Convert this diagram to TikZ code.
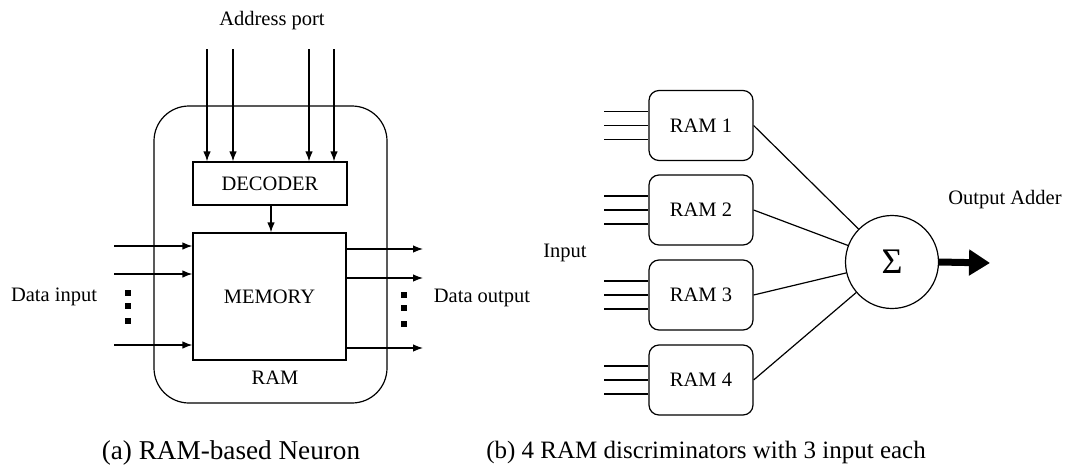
\documentclass[tikz,border=0pt]{standalone}
\usepackage{fontspec}
\setmainfont{Liberation Serif}
\usetikzlibrary{arrows.meta,calc}
\begin{document}
\begin{tikzpicture}[x=1pt,y=-1pt,
  line width=1.2pt,
  lbl/.style={font=\fontsize{20.5}{24}\selectfont, inner sep=0pt},
  captxt/.style={font=\fontsize{25}{30}\selectfont, inner sep=0pt, anchor=base},
  sqbox/.style={draw, inner sep=0pt, font=\fontsize{20.5}{24}\selectfont},
  rambox/.style={draw, rounded corners=10pt, minimum width=104pt, minimum height=70pt, inner sep=0pt, font=\fontsize{20.5}{24}\selectfont},
  arr/.style={-{Latex[length=10pt,width=7.5pt]}},
  dotsq/.style={fill, minimum size=5.5pt, inner sep=0pt}
]
\useasboundingbox (0,0) rectangle (1073,466);

% ---------- (a) RAM-based neuron ----------
\node[draw, rounded corners=35pt, minimum width=233pt, minimum height=297pt, inner sep=0pt] (outer) at (270.5,254.5) {};
\node[sqbox, minimum width=154pt, minimum height=43pt] (dec) at (270,183.5) {DECODER};
\node[sqbox, minimum width=153pt, minimum height=127pt] (mem) at (269.5,296.5) {MEMORY};
\node[lbl] (ramlbl) at (275,378) {RAM};
\node[lbl] (addr) at (272,21) {Address port};
\node[lbl] (din) at (54,297) {Data input};
\node[lbl] (dout) at (482,298) {Data output};

\foreach \i/\x in {1/207,2/233,3/309,4/334} {
  \coordinate (a\i) at (\x,49);
  \draw[arr] (a\i) -- (a\i |- dec.north);
}
\draw[arr] (dec.south -| 271,0) -- (mem.north -| 271,0);

\foreach \i/\y in {1/246,2/274,3/345} {
  \coordinate (in\i) at (114,\y);
  \draw[arr] (in\i) -- (in\i -| mem.west);
}
\foreach \i/\y in {1/249,2/278,3/348} {
  \coordinate (out\i) at (423,\y);
  \draw[arr] (out\i -| mem.east) -- (out\i);
}
\foreach \i/\y in {1/293,2/306,3/321} { \node[dotsq] (dl\i) at (128,\y) {}; }
\foreach \i/\y in {1/295,2/308,3/324} { \node[dotsq] (dr\i) at (404,\y) {}; }

\node[captxt, font=\fontsize{27.2}{32}\selectfont] (capa) at (231,459) {(a) RAM-based Neuron};

% ---------- (b) RAM discriminators ----------
\foreach \i/\y in {1/125.5,2/210,3/295,4/380} {
  \node[rambox] (r\i) at (701,\y) {RAM \i};
  \foreach \k/\d in {1/-14,2/0,3/14} {
    \coordinate (r\i in\k) at (604,\y+\d);
    \draw (r\i in\k) -- (r\i in\k -| r\i.west);
  }
}
\node[lbl] (inlbl) at (565,253) {Input};
\node[draw, circle, minimum size=93pt, inner sep=0pt, font=\fontsize{36}{40}\selectfont] (sum) at (892,262) {Σ};
\foreach \i in {1,2,3,4} { \draw (r\i.east) -- (sum); }
\coordinate (outend) at (990,263);
\draw[line width=7pt, -{Triangle[length=21pt,width=25pt]}] (sum.east) -- (outend);
\node[lbl] (outlbl) at (1005,200) {Output Adder};

\node[captxt] (capb) at (706,458) {(b) 4 RAM discriminators with 3 input each};
\end{tikzpicture}
\end{document}
